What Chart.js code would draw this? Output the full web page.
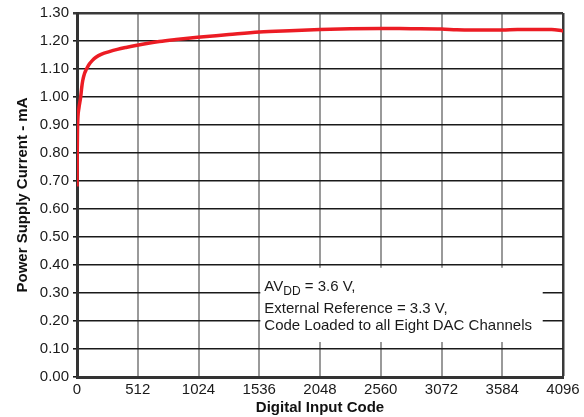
<!DOCTYPE html>
<html>
<head>
<meta charset="utf-8">
<script src="https://cdn.jsdelivr.net/npm/chart.js"></script>
<style>
  html, body { margin: 0; padding: 0; background: #fff; }
  #wrap { width: 584px; height: 417px; }
</style>
</head>
<body>
<div id="wrap"><canvas id="chart" width="584" height="417"></canvas></div>
<script>
// digital input code vs power supply current (mA)
const codes = [0, 2, 4, 8, 16, 31, 40, 48, 64, 80, 104, 128, 160, 208, 272, 340, 413, 506, 600, 694, 835, 1017, 1172, 1280, 1536, 1792, 2048, 2304, 2560, 2816, 3072, 3200, 3328, 3584, 3712, 3840, 4000, 4096];
const current = [0.68, 0.80, 0.88, 0.93, 0.96, 1.00, 1.035, 1.058, 1.085, 1.100, 1.118, 1.130, 1.142, 1.153, 1.162, 1.170, 1.177, 1.185, 1.192, 1.198, 1.205, 1.213, 1.219, 1.223, 1.232, 1.237, 1.241, 1.244, 1.245, 1.244, 1.243, 1.240, 1.239, 1.239, 1.241, 1.241, 1.241, 1.236];

const xTicks = [0, 512, 1024, 1536, 2048, 2560, 3072, 3584, 4096];
const yTicks = [0, 0.1, 0.2, 0.3, 0.4, 0.5, 0.6, 0.7, 0.8, 0.9, 1.0, 1.1, 1.2, 1.3];

const noteLines = ['AV|DD| = 3.6 V,', 'External Reference = 3.3 V,', 'Code Loaded to all Eight DAC Channels'];
const noteBox = { x0: 1545, x1: 3925, y0: 0.125, y1: 0.39 };

const FONT = '"Liberation Sans", Arial, sans-serif';

const notePlugin = {
  id: 'note',
  afterDatasetsDraw(chart) {
    const { ctx, scales: { x, y } } = chart;
    const left = x.getPixelForValue(noteBox.x0);
    const right = x.getPixelForValue(noteBox.x1);
    const top = y.getPixelForValue(noteBox.y1);
    const bottom = y.getPixelForValue(noteBox.y0);
    ctx.save();
    ctx.fillStyle = '#fff';
    ctx.fillRect(left, top, right - left, bottom - top);
    ctx.fillStyle = '#1a1a1a';
    ctx.textBaseline = 'alphabetic';
    ctx.textAlign = 'left';
    const tx = left + 4;
    const baselines = [top + 23, top + 45, top + 62];
    // first line has a subscript
    const parts = noteLines[0].split('|');
    let cx = tx;
    ctx.font = '15px ' + FONT;
    ctx.fillText(parts[0], cx, baselines[0]);
    cx += ctx.measureText(parts[0]).width;
    ctx.font = '12px ' + FONT;
    ctx.fillText(parts[1], cx, baselines[0] + 4);
    cx += ctx.measureText(parts[1]).width;
    ctx.font = '15px ' + FONT;
    ctx.fillText(parts[2], cx, baselines[0]);
    ctx.fillText(noteLines[1], tx, baselines[1]);
    ctx.fillText(noteLines[2], tx, baselines[2]);
    ctx.restore();
  }
};

new Chart(document.getElementById('chart'), {
  type: 'line',
  data: {
    datasets: [{
      data: codes.map((c, i) => ({ x: c, y: current[i] })),
      borderColor: '#ec1c24',
      borderWidth: 3.5,
      pointRadius: 0,
      cubicInterpolationMode: 'monotone',
      fill: false
    }]
  },
  options: {
    responsive: false,
    animation: false,
    layout: { padding: { top: 13, right: 21, left: 0, bottom: 0 } },
    plugins: { legend: { display: false }, tooltip: { enabled: false } },
    scales: {
      x: {
        type: 'linear',
        min: 0,
        max: 4096,
        afterBuildTicks: s => { s.ticks = xTicks.map(v => ({ value: v })); },
        afterFit: s => { s.height = 40; },
        grid: {
          color: c => c.tick && c.tick.value === 4096 ? '#3a3a3a' : '#9a9a9a',
          lineWidth: c => c.tick && c.tick.value === 4096 ? 2.5 : 2,
          drawTicks: false
        },
        border: { color: '#333', width: 3 },
        ticks: {
          padding: 4,
          color: '#1a1a1a',
          maxRotation: 0,
          autoSkip: false,
          font: { family: FONT, size: 15 },
          callback: v => String(v)
        },
        title: {
          display: true,
          text: 'Digital Input Code',
          color: '#111',
          padding: { top: 2, bottom: 0 },
          font: { family: FONT, size: 15, weight: 'bold' }
        }
      },
      y: {
        min: 0,
        max: 1.3,
        afterBuildTicks: s => { s.ticks = yTicks.map(v => ({ value: v })); },
        afterFit: s => { s.width = 77; },
        grid: {
          color: c => c.tick && Math.abs(c.tick.value - 1.3) < 1e-6 ? '#3a3a3a' : '#1a1a1a',
          lineWidth: c => c.tick && Math.abs(c.tick.value - 1.3) < 1e-6 ? 2.5 : 1.6,
          tickLength: 4
        },
        border: { color: '#333', width: 3 },
        ticks: {
          padding: 4,
          color: '#1a1a1a',
          autoSkip: false,
          font: { family: FONT, size: 15 },
          callback: v => Number(v).toFixed(2)
        },
        title: {
          display: true,
          text: 'Power Supply Current - mA',
          color: '#111',
          padding: { top: 14, bottom: 0 },
          font: { family: FONT, size: 15, weight: 'bold' }
        }
      }
    }
  },
  plugins: [notePlugin]
});
</script>
</body>
</html>
